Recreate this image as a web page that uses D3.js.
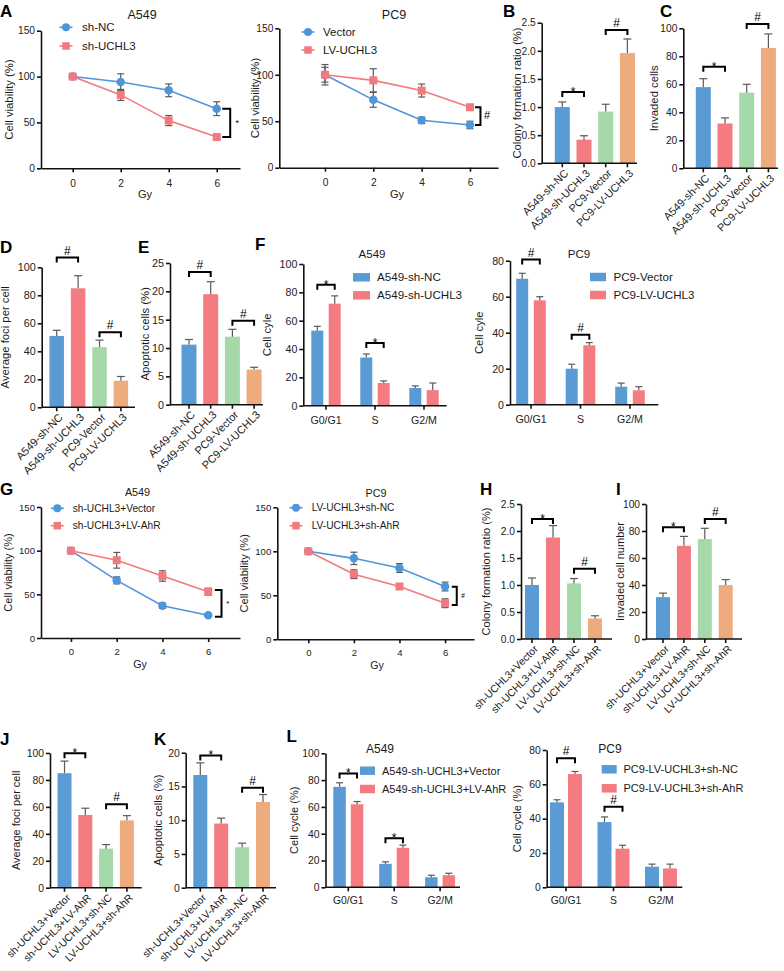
<!DOCTYPE html>
<html><head><meta charset="utf-8">
<script src="https://cdn.jsdelivr.net/npm/d3@7"></script>
<style>body{margin:0;background:#fff}svg{display:block}</style>
</head><body>
<svg id="c" width="784" height="971"></svg>
<script>
// ---------------- DATA ----------------
const doses = [0, 2, 4, 6];
const viabTicks = [0, 50, 100, 150];
// A
const aA549Series = ["sh-NC", "sh-UCHL3"];
const aA549NC = [100, 94, 85, 65], aA549NCErr = [1.5, 9, 7, 7.5];
const aA549KD = [100, 80, 52, 34], aA549KDErr = [1.5, 6, 5.5, 3];
const aPC9Series = ["Vector", "LV-UCHL3"];
const aPC9Vec = [100, 73, 51, 46], aPC9VecErr = [11, 8, 3.5, 4];
const aPC9LV = [100, 94, 83, 65], aPC9LVErr = [8, 12.5, 7, 3];
// B-E
const groupsBE = ["A549-sh-NC", "A549-sh-UCHL3", "PC9-Vector", "PC9-LV-UCHL3"];
const bColony = [1.0, 0.42, 0.92, 1.96], bColonyErr = [0.09, 0.07, 0.13, 0.25];
const cInvaded = [58, 32, 54, 86], cInvadedErr = [6, 4, 6, 10];
const dFoci = [51, 85, 43, 19], dFociErr = [4, 9, 5, 3];
const eApop = [10.6, 19.5, 12, 6.2], eApopErr = [0.9, 2.2, 1.3, 0.4];
// F
const phases = ["G0/G1", "S", "G2/M"];
const fA549Series = ["A549-sh-NC", "A549-sh-UCHL3"];
const fA549NC = [53, 34, 12.5], fA549NCErr = [3, 2.5, 1.5];
const fA549KD = [72, 16, 11], fA549KDErr = [5.5, 1.5, 5];
const fPC9Series = ["PC9-Vector", "PC9-LV-UCHL3"];
const fPC9Vec = [70, 20, 10], fPC9VecErr = [3, 2.5, 2];
const fPC9LV = [58, 33, 8], fPC9LVErr = [2, 1.5, 2];
// G
const gA549Series = ["sh-UCHL3+Vector", "sh-UCHL3+LV-AhR"];
const gA549Vec = [100, 66, 37, 26], gA549VecErr = [0, 4, 3, 1];
const gA549AhR = [100, 89, 71, 53], gA549AhRErr = [0, 9, 6, 4];
const gPC9Series = ["LV-UCHL3+sh-NC", "LV-UCHL3+sh-AhR"];
const gPC9NC = [100, 92, 81, 60], gPC9NCErr = [0, 7, 5, 5];
const gPC9AhR = [100, 74, 60, 41], gPC9AhRErr = [0, 5, 3, 5];
// H-K
const groupsHK = ["sh-UCHL3+Vector", "sh-UCHL3+LV-AhR", "LV-UCHL3+sh-NC", "LV-UCHL3+sh-AhR"];
const hColony = [1.0, 1.88, 1.03, 0.38], hColonyErr = [0.13, 0.22, 0.09, 0.05];
const iInvaded = [31, 69, 74, 40], iInvadedErr = [3, 7, 8, 4];
const jFoci = [85, 54, 29, 50], jFociErr = [9, 5, 3, 3.5];
const kApop = [16.7, 9.5, 6, 12.7], kApopErr = [1.8, 0.8, 0.6, 1.1];
// L
const lA549Series = ["A549-sh-UCHL3+Vector", "A549-sh-UCHL3+LV-AhR"];
const lA549Vec = [75, 17.5, 7.5], lA549VecErr = [3, 1.5, 1.5];
const lA549AhR = [62, 29.5, 9], lA549AhRErr = [2, 2, 1.5];
const lPC9Series = ["PC9-LV-UCHL3+sh-NC", "PC9-LV-UCHL3+sh-AhR"];
const lPC9NC = [49.5, 38, 12], lPC9NCErr = [1.5, 3, 1.5];
const lPC9AhR = [66, 22.5, 11], lPC9AhRErr = [1.5, 2, 2.5];

// ---------------- STYLE ----------------
const FONT = "'Liberation Sans', Arial, Helvetica, sans-serif";
const BLUE = "#5b9bd5", RED = "#f47c80", GREEN = "#a6d9a9", ORANGE = "#eeab7d";
const LBLUE = "#4f95dc", LRED = "#f27a7e";
const ERRC = "#5a5a5a";
const four = [BLUE, RED, GREEN, ORANGE];

const svg = d3.select("#c");

function text(x, y, s, fs, o = {}) {
  const t = svg.append("text").attr("x", x).attr("y", y).text(s)
    .attr("font-family", FONT).attr("font-size", fs).attr("fill", o.fill || "#1a1a1a")
    .attr("text-anchor", o.anchor || "start");
  if (o.bold) t.attr("font-weight", "bold");
  if (o.dy) t.attr("dy", o.dy);
  return t;
}
function panelLabel(s, x, y) { text(x, y, s, 17, { bold: true, fill: "#000" }); }
function yLabel(s, x, yc, fs) {
  svg.append("text").attr("transform", `translate(${x},${yc}) rotate(-90)`)
    .attr("text-anchor", "middle").attr("font-family", FONT).attr("font-size", fs)
    .attr("fill", "#1a1a1a").text(s);
}
function axisStyle(g, fs) {
  g.attr("font-family", FONT).attr("font-size", fs);
  g.select(".domain").attr("stroke", "#111").attr("stroke-width", 1.6);
  g.selectAll(".tick line").attr("stroke", "#111").attr("stroke-width", 1.6);
  g.selectAll(".tick text").attr("fill", "#222");
}
function yAxis(y, l, ticks, fmt, fs) {
  const g = svg.append("g").attr("transform", `translate(${l},0)`)
    .call(d3.axisLeft(y).tickValues(ticks).tickFormat(fmt).tickSize(4).tickSizeOuter(0).tickPadding(2));
  axisStyle(g, fs);
}
function errUp(cx, y0, y1, cap) {
  svg.append("line").attr("x1", cx).attr("x2", cx).attr("y1", y0).attr("y2", y1).attr("stroke", ERRC).attr("stroke-width", 1.2);
  svg.append("line").attr("x1", cx - cap).attr("x2", cx + cap).attr("y1", y1).attr("y2", y1).attr("stroke", ERRC).attr("stroke-width", 1.2);
}
function marker(shape, x, y, c, s) {
  if (shape === "circle") svg.append("circle").attr("cx", x).attr("cy", y).attr("r", s / 2).attr("fill", c);
  else svg.append("rect").attr("x", x - s / 2).attr("y", y - s / 2).attr("width", s).attr("height", s).attr("fill", c);
}
function sigSym(x, yl, sym, fs) {
  text(x, sym === "*" ? yl + fs * 0.33 : yl - 3, sym, fs, { anchor: "middle", fill: "#000" });
}
function bracketH(x1, x2, yl) {
  svg.append("path").attr("d", `M${x1},${yl + 5}V${yl}H${x2}V${yl + 5}`)
    .attr("fill", "none").attr("stroke", "#000").attr("stroke-width", 2);
}

// ---------------- LINE PANEL ----------------
function linePanel(o) {
  const x = d3.scaleLinear().domain(o.xd).range([o.l, o.r]);
  const y = d3.scaleLinear().domain([0, 150]).range([o.b, o.t]);
  const ax = svg.append("g").attr("transform", `translate(0,${o.b})`)
    .call(d3.axisBottom(x).tickValues(doses).tickSize(4).tickSizeOuter(0).tickPadding(o.tp));
  axisStyle(ax, o.fs);
  yAxis(y, o.l, viabTicks, d3.format("d"), o.fs);
  const line = d3.line().x((d, i) => x(doses[i])).y(d => y(d));
  o.series.forEach(s => {
    svg.append("path").datum(s.v).attr("d", line).attr("fill", "none").attr("stroke", s.c).attr("stroke-width", 1.6);
  });
  o.series.forEach(s => s.v.forEach((v, i) => {
    const e = s.e[i]; if (!e) return;
    const cx = x(doses[i]);
    errUp(cx, y(v - e), y(v + e), 3.5);
    svg.append("line").attr("x1", cx - 3.5).attr("x2", cx + 3.5).attr("y1", y(v - e)).attr("y2", y(v - e)).attr("stroke", ERRC).attr("stroke-width", 1.2);
  }));
  o.series.forEach(s => s.v.forEach((v, i) => marker(s.shape, x(doses[i]), y(v), s.c, s.shape === "circle" ? 8.5 : 8)));
  // legend
  o.series.forEach((s, k) => {
    const ly = o.leg.ys[k];
    svg.append("line").attr("x1", o.leg.x - 6.5).attr("x2", o.leg.x + 6.5).attr("y1", ly).attr("y2", ly).attr("stroke", s.c).attr("stroke-width", 1.6);
    marker(s.shape, o.leg.x, ly, s.c, s.shape === "circle" ? 8 : 7.5);
    text(o.leg.tx, ly, s.name, o.leg.fs, { dy: "0.36em" });
  });
  text(o.title.x, o.title.y, o.title.s, o.title.fs, { anchor: "middle" });
  text(o.gy.x, o.gy.y, "Gy", o.gy.fs, { anchor: "middle" });
  yLabel("Cell viability (%)", o.ylx, (o.t + o.b) / 2, o.yfs);
  // bracket
  const bx = x(doses[3]);
  const y1 = y(o.br.v1), y2 = y(o.br.v2);
  svg.append("path").attr("d", `M${bx + o.br.d1},${y1}H${bx + o.br.d2}V${y2}H${bx + o.br.d1}`)
    .attr("fill", "none").attr("stroke", "#000").attr("stroke-width", 2);
  text(bx + o.br.sx, (y1 + y2) / 2 + o.br.fs * 0.3, o.br.sym, o.br.fs, { anchor: "middle", fill: "#000" });
}

// ---------------- BAR PANEL ----------------
function barPanel(o) {
  const x = d3.scaleBand().domain(o.cats).range([o.c0 - o.step / 2, o.c0 - o.step / 2 + o.step * o.cats.length]);
  const y = d3.scaleLinear().domain(o.yd).range([o.b, o.t]);
  const cx = c => x(c) + x.bandwidth() / 2;
  o.cats.forEach((c, i) => {
    const v = o.vals[i];
    svg.append("rect").attr("x", cx(c) - o.w / 2).attr("y", y(v)).attr("width", o.w).attr("height", o.b - y(v)).attr("fill", four[i]);
    errUp(cx(c), y(v), y(v + o.errs[i]), 4);
  });
  const ax = svg.append("g").attr("transform", `translate(0,${o.b})`)
    .call(d3.axisBottom(x).tickSize(4).tickSizeOuter(0).tickFormat(""));
  ax.select(".domain").remove();
  axisStyle(ax, o.lfs);
  svg.append("line").attr("x1", o.l).attr("x2", o.r).attr("y1", o.b).attr("y2", o.b).attr("stroke", "#111").attr("stroke-width", 1.6);
  yAxis(y, o.l, o.yt, o.fmt, o.fs);
  o.cats.forEach(c => {
    svg.append("text").attr("transform", `translate(${cx(c) + 4},${o.b + 8}) rotate(-45)`)
      .attr("text-anchor", "end").attr("dy", "0.35em").attr("font-family", FONT).attr("font-size", o.lfs)
      .attr("fill", "#1a1a1a").text(c);
  });
  o.sig.forEach(([i, j, lv, sym]) => {
    const yl = y(lv);
    bracketH(cx(o.cats[i]), cx(o.cats[j]), yl);
    sigSym((cx(o.cats[i]) + cx(o.cats[j])) / 2, yl, sym, 12);
  });
  yLabel(o.ylab, o.ylx, (o.t + o.b) / 2, o.yfs);
  panelLabel(o.label[0], o.label[1], o.label[2]);
}

// ---------------- GROUPED PANEL ----------------
function groupPanel(o) {
  const x = d3.scaleBand().domain(phases).range([o.c0 - o.step / 2, o.c0 - o.step / 2 + o.step * phases.length]);
  const y = d3.scaleLinear().domain(o.yd).range([o.b, o.t]);
  const gc = p => x(p) + x.bandwidth() / 2;
  o.series.forEach((s, k) => {
    const off = (k === 0 ? -1 : 1) * o.off;
    phases.forEach((p, i) => {
      const v = s.v[i];
      svg.append("rect").attr("x", gc(p) + off - o.w / 2).attr("y", y(v)).attr("width", o.w).attr("height", o.b - y(v)).attr("fill", s.c);
      errUp(gc(p) + off, y(v), y(v + s.e[i]), 3.5);
    });
  });
  const ax = svg.append("g").attr("transform", `translate(0,${o.b})`)
    .call(d3.axisBottom(x).tickSize(4).tickSizeOuter(0).tickPadding(o.tp));
  ax.select(".domain").remove();
  axisStyle(ax, o.fs);
  svg.append("line").attr("x1", o.l).attr("x2", o.r).attr("y1", o.b).attr("y2", o.b).attr("stroke", "#111").attr("stroke-width", 1.6);
  yAxis(y, o.l, o.yt, d3.format("d"), o.fs);
  o.sig.forEach(([i, lv, sym]) => {
    const yl = y(lv), c = gc(phases[i]);
    bracketH(c - o.off, c + o.off, yl);
    sigSym(c, yl, sym, 12);
  });
  o.series.forEach((s, k) => {
    const ly = o.leg.ys[k];
    svg.append("rect").attr("x", o.leg.x).attr("y", ly - o.leg.h / 2).attr("width", o.leg.w).attr("height", o.leg.h).attr("fill", s.c);
    text(o.leg.tx, ly, s.name, o.leg.fs, { dy: "0.36em" });
  });
  text(o.title.x, o.title.y, o.title.s, o.title.fs, { anchor: "middle" });
  yLabel(o.ylab, o.ylx, (o.t + o.b) / 2, o.yfs);
}

// ================= PANELS =================
// A
panelLabel("A", 0, 17);
linePanel({
  xd: [-1.32, 6.97], l: 41, r: 240, t: 30.7, b: 168.3, fs: 10.2, tp: 7,
  series: [
    { name: aA549Series[0], v: aA549NC, e: aA549NCErr, c: LBLUE, shape: "circle" },
    { name: aA549Series[1], v: aA549KD, e: aA549KDErr, c: LRED, shape: "square" }],
  leg: { x: 66, ys: [27.3, 46], tx: 82, fs: 11.5 },
  title: { s: "A549", x: 142, y: 18.5, fs: 12.5 },
  gy: { x: 145, y: 198, fs: 11 }, ylx: 12.5, yfs: 11.3,
  br: { v1: 65, v2: 34, d1: 5.5, d2: 13.5, sx: 20.5, sym: "*", fs: 9 }
});
linePanel({
  xd: [-1.89, 7.16], l: 279.3, r: 498, t: 28.3, b: 167.7, fs: 10.2, tp: 7,
  series: [
    { name: aPC9Series[0], v: aPC9Vec, e: aPC9VecErr, c: LBLUE, shape: "circle" },
    { name: aPC9Series[1], v: aPC9LV, e: aPC9LVErr, c: LRED, shape: "square" }],
  leg: { x: 308, ys: [32, 50], tx: 323, fs: 11.5 },
  title: { s: "PC9", x: 394, y: 18.5, fs: 12.5 },
  gy: { x: 397, y: 198, fs: 11 }, ylx: 258.5, yfs: 11.3,
  br: { v1: 65, v2: 46, d1: 5, d2: 10.5, sx: 17, sym: "#", fs: 11 }
});

// B
barPanel({
  cats: groupsBE, vals: bColony, errs: bColonyErr, c0: 562.3, step: 21.7, w: 15,
  l: 541.7, r: 637, t: 22.7, b: 163.3, yd: [0, 2.5], yt: [0, 0.5, 1, 1.5, 2, 2.5], fmt: d3.format(".1f"),
  fs: 10.2, lfs: 10.8, sig: [[0, 1, 1.27, "*"], [2, 3, 2.37, "#"]],
  ylab: "Colony formation ratio (%)", ylx: 521, yfs: 11.3, label: ["B", 503, 17]
});
// C
barPanel({
  cats: groupsBE, vals: cInvaded, errs: cInvadedErr, c0: 703.3, step: 21.7, w: 15,
  l: 683.3, r: 778, t: 28.3, b: 168.3, yd: [0, 100], yt: [0, 20, 40, 60, 80, 100], fmt: d3.format("d"),
  fs: 10.2, lfs: 10.8, sig: [[0, 1, 72.6, "*"], [2, 3, 103, "#"]],
  ylab: "Invaded cells", ylx: 658, yfs: 11.3, label: ["C", 660, 17]
});
// D
barPanel({
  cats: groupsBE, vals: dFoci, errs: dFociErr, c0: 56.7, step: 21.4, w: 14.5,
  l: 41.7, r: 135, t: 267.3, b: 407.3, yd: [0, 100], yt: [0, 20, 40, 60, 80, 100], fmt: d3.format("d"),
  fs: 10.8, lfs: 11, sig: [[0, 1, 107, "#"], [2, 3, 53.6, "#"]],
  ylab: "Average foci per cell", ylx: 9, yfs: 11.3, label: ["D", 0, 253]
});
// E
barPanel({
  cats: groupsBE, vals: eApop, errs: eApopErr, c0: 189, step: 21.7, w: 15,
  l: 170, r: 263, t: 263, b: 404.7, yd: [0, 25], yt: [0, 5, 10, 15, 20, 25], fmt: d3.format("d"),
  fs: 10.8, lfs: 11, sig: [[0, 1, 23.4, "#"], [2, 3, 14.8, "#"]],
  ylab: "Apoptotic cells (%)", ylx: 149, yfs: 11.3, label: ["E", 138, 253]
});
// F
panelLabel("F", 255, 250);
groupPanel({
  c0: 326, step: 49, off: 8.7, w: 12, l: 303.3, r: 446.7, t: 264, b: 405.7,
  yd: [0, 100], yt: [0, 20, 40, 60, 80, 100], fs: 10.6, tp: 7,
  series: [
    { name: fA549Series[0], v: fA549NC, e: fA549NCErr, c: BLUE },
    { name: fA549Series[1], v: fA549KD, e: fA549KDErr, c: RED }],
  sig: [[0, 85.4, "*"], [1, 44.3, "*"]],
  leg: { x: 353, w: 17, h: 8.5, ys: [277.3, 295.3], tx: 377, fs: 11.6 },
  title: { s: "A549", x: 372, y: 258, fs: 11.5 },
  ylab: "Cell cyle", ylx: 271, yfs: 11.3
});
groupPanel({
  c0: 531, step: 49.5, off: 8.8, w: 12, l: 510, r: 658.3, t: 260.7, b: 404.7,
  yd: [0, 80], yt: [0, 20, 40, 60, 80], fs: 10.6, tp: 7,
  series: [
    { name: fPC9Series[0], v: fPC9Vec, e: fPC9VecErr, c: BLUE },
    { name: fPC9Series[1], v: fPC9LV, e: fPC9LVErr, c: RED }],
  sig: [[0, 80.6, "#"], [1, 38.9, "#"]],
  leg: { x: 590, w: 16, h: 8.5, ys: [277, 295], tx: 613.5, fs: 11.6 },
  title: { s: "PC9", x: 579, y: 258, fs: 11.5 },
  ylab: "Cell cyle", ylx: 483, yfs: 11.3
});

// G
panelLabel("G", 0, 495);
linePanel({
  xd: [-1.31, 7.39], l: 41, r: 240, t: 507, b: 638, fs: 9.6, tp: 6,
  series: [
    { name: gA549Series[0], v: gA549Vec, e: gA549VecErr, c: LBLUE, shape: "circle" },
    { name: gA549Series[1], v: gA549AhR, e: gA549AhRErr, c: LRED, shape: "square" }],
  leg: { x: 57.3, ys: [508.3, 525.7], tx: 72.7, fs: 10.2 },
  title: { s: "A549", x: 137.5, y: 496, fs: 10.8 },
  gy: { x: 140, y: 668, fs: 10.6 }, ylx: 12, yfs: 11,
  br: { v1: 55, v2: 24.4, d1: 6.7, d2: 13.3, sx: 19.5, sym: "*", fs: 7.5 }
});
linePanel({
  xd: [-1.36, 7.27], l: 277.3, r: 474, t: 507.3, b: 639.3, fs: 9.6, tp: 6,
  series: [
    { name: gPC9Series[0], v: gPC9NC, e: gPC9NCErr, c: LBLUE, shape: "circle" },
    { name: gPC9Series[1], v: gPC9AhR, e: gPC9AhRErr, c: LRED, shape: "square" }],
  leg: { x: 296, ys: [507.7, 525.7], tx: 311.7, fs: 10.2 },
  title: { s: "PC9", x: 376, y: 496.5, fs: 10.8 },
  gy: { x: 377, y: 669, fs: 10.6 }, ylx: 248, yfs: 11,
  br: { v1: 59.6, v2: 39, d1: 6.7, d2: 11.7, sx: 18, sym: "#", fs: 6.5 }
});

// H
barPanel({
  cats: groupsHK, vals: hColony, errs: hColonyErr, c0: 532, step: 21, w: 14,
  l: 521, r: 612, t: 504, b: 639, yd: [0, 2.5], yt: [0, 0.5, 1, 1.5, 2, 2.5], fmt: d3.format(".1f"),
  fs: 10.2, lfs: 10.5, sig: [[0, 1, 2.22, "*"], [2, 3, 1.30, "#"]],
  ylab: "Colony formation ratio (%)", ylx: 490, yfs: 11, label: ["H", 480, 495]
});
// I
barPanel({
  cats: groupsHK, vals: iInvaded, errs: iInvadedErr, c0: 663, step: 20.9, w: 14,
  l: 646, r: 742, t: 504, b: 639, yd: [0, 100], yt: [0, 20, 40, 60, 80, 100], fmt: d3.format("d"),
  fs: 10.2, lfs: 10.5, sig: [[0, 1, 82.7, "*"], [2, 3, 88.9, "#"]],
  ylab: "Invaded cell number", ylx: 624, yfs: 11, label: ["I", 616, 495]
});
// J
barPanel({
  cats: groupsHK, vals: jFoci, errs: jFociErr, c0: 64.5, step: 20.8, w: 14,
  l: 50, r: 141.7, t: 753, b: 887.7, yd: [0, 100], yt: [0, 20, 40, 60, 80, 100], fmt: d3.format("d"),
  fs: 10.4, lfs: 10.5, sig: [[0, 1, 99.8, "*"], [2, 3, 61.9, "#"]],
  ylab: "Average foci per cell", ylx: 20, yfs: 11, label: ["J", 0, 745]
});
// K
barPanel({
  cats: groupsHK, vals: kApop, errs: kApopErr, c0: 200.3, step: 20.9, w: 14,
  l: 185.7, r: 276, t: 752.7, b: 887.7, yd: [0, 20], yt: [0, 5, 10, 15, 20], fmt: d3.format("d"),
  fs: 10.4, lfs: 10.5, sig: [[0, 1, 19.6, "*"], [2, 3, 14.8, "#"]],
  ylab: "Apoptotic cells (%)", ylx: 162, yfs: 11, label: ["K", 154, 745]
});

// L
panelLabel("L", 286.5, 742);
groupPanel({
  c0: 348.3, step: 45.9, off: 8.75, w: 12.5, l: 325.5, r: 460, t: 753.3, b: 887.3,
  yd: [0, 100], yt: [0, 20, 40, 60, 80, 100], fs: 10.4, tp: 5.5,
  series: [
    { name: lA549Series[0], v: lA549Vec, e: lA549VecErr, c: BLUE },
    { name: lA549Series[1], v: lA549AhR, e: lA549AhRErr, c: RED }],
  sig: [[0, 85, "*"], [1, 36.6, "*"]],
  leg: { x: 360, w: 15, h: 8.5, ys: [770.7, 789], tx: 382, fs: 11 },
  title: { s: "A549", x: 380, y: 753, fs: 12 },
  ylab: "Cell cycle (%)", ylx: 298, yfs: 11
});
groupPanel({
  c0: 566, step: 47.5, off: 9, w: 14, l: 546.7, r: 682.3, t: 750, b: 887.3,
  yd: [0, 80], yt: [0, 20, 40, 60, 80], fs: 10.4, tp: 5.5,
  series: [
    { name: lPC9Series[0], v: lPC9NC, e: lPC9NCErr, c: BLUE },
    { name: lPC9Series[1], v: lPC9AhR, e: lPC9AhRErr, c: RED }],
  sig: [[0, 75.2, "#"], [1, 47, "#"]],
  leg: { x: 601.7, w: 15, h: 8.5, ys: [769.3, 788.3], tx: 623.5, fs: 11 },
  title: { s: "PC9", x: 610, y: 753, fs: 12 },
  ylab: "Cell cycle (%)", ylx: 521, yfs: 11
});
</script>
</body></html>
